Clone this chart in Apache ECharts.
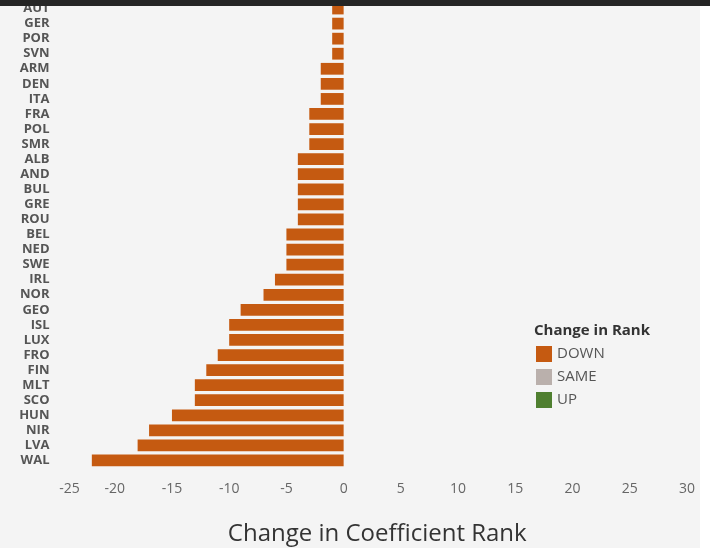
<!DOCTYPE html>
<html>
<head>
<meta charset="utf-8">
<script src="https://cdn.jsdelivr.net/npm/echarts@6/dist/echarts.min.js"></script>
<style>
  html, body { margin: 0; padding: 0; background: #ffffff; }
  #chart { width: 710px; height: 548px; }
</style>
</head>
<body>
<div id="chart"></div>
<script>
// Countries ordered top to bottom
const countries = ['AUT', 'GER', 'POR', 'SVN', 'ARM', 'DEN', 'ITA', 'FRA', 'POL', 'SMR',
  'ALB', 'AND', 'BUL', 'GRE', 'ROU', 'BEL', 'NED', 'SWE', 'IRL', 'NOR',
  'GEO', 'ISL', 'LUX', 'FRO', 'FIN', 'MLT', 'SCO', 'HUN', 'NIR', 'LVA', 'WAL'];

// Change in coefficient rank per country
const rankChange = [-1, -1, -1, -1, -2, -2, -2, -3, -3, -3,
  -4, -4, -4, -4, -4, -5, -5, -5, -6, -7,
  -9, -10, -10, -11, -12, -13, -13, -15, -17, -18, -22];

// Direction groups shown in the legend
const groups = ['DOWN', 'SAME', 'UP'];
const groupColors = { DOWN: '#c55a11', SAME: '#bab0ac', UP: '#4f7f30' };

const xTickMin = -25;
const xTickMax = 30;
const xTickStep = 5;

function valuesFor(group) {
  return rankChange.map(v => {
    const g = v < 0 ? 'DOWN' : (v === 0 ? 'SAME' : 'UP');
    return g === group ? v : null;
  });
}

const chart = echarts.init(document.getElementById('chart'), null, { renderer: 'canvas' });

const font = '"Open Sans", "Noto Sans", sans-serif';

chart.setOption({
  backgroundColor: '#f4f4f4',
  animation: false,
  textStyle: { fontFamily: font },
  title: {
    text: 'Change in Rank',
    left: 534,
    top: 323,
    padding: 0,
    textStyle: { fontFamily: font, fontSize: 15, fontWeight: 'bold', color: '#333333' }
  },
  legend: {
    data: groups,
    orient: 'vertical',
    left: 536,
    top: 346,
    padding: 0,
    itemWidth: 16,
    itemHeight: 16,
    itemGap: 7,
    icon: 'rect',
    selectedMode: false,
    textStyle: { fontFamily: font, fontSize: 15, color: '#555555' }
  },
  grid: { left: 57.5, right: 23, top: 1, bottom: 80, containLabel: false, outerBoundsMode: 'none' },
  xAxis: {
    type: 'value',
    min: xTickMin,
    max: xTickMax,
    interval: xTickStep,
    name: 'Change in Coefficient Rank',
    nameLocation: 'middle',
    nameGap: 54,
    nameTextStyle: { fontFamily: font, fontSize: 24, color: '#333333', padding: [0, 0, 0, 10] },
    axisLine: { show: false },
    axisTick: { show: false },
    splitLine: { show: false },
    axisLabel: {
      margin: 14,
      fontFamily: font,
      fontSize: 14,
      color: '#666666',
      formatter: v => (v === xTickMin ? '{edge|' + v + '}' : String(v)),
      rich: {
        edge: { fontFamily: font, fontSize: 14, color: '#666666', padding: [0, 0, 0, 24] }
      }
    }
  },
  yAxis: {
    type: 'category',
    data: countries,
    inverse: true,
    axisLine: { show: false },
    axisTick: { show: false },
    splitLine: { show: false },
    axisLabel: {
      interval: 0,
      margin: 8,
      fontFamily: font,
      fontSize: 13,
      fontWeight: 'bold',
      color: '#555555'
    }
  },
  series: groups.map(g => ({
    name: g,
    type: 'bar',
    stack: 'rank',
    barCategoryGap: '22%',
    itemStyle: { color: groupColors[g] },
    data: valuesFor(g)
  })),
  graphic: [
    { type: 'rect', left: 0, top: 0, shape: { width: 710, height: 6 }, style: { fill: '#252525' }, z: 100 },
    { type: 'rect', left: 700, top: 6, shape: { width: 10, height: 542 }, style: { fill: '#ffffff' }, z: 100 }
  ]
});
</script>
</body>
</html>
